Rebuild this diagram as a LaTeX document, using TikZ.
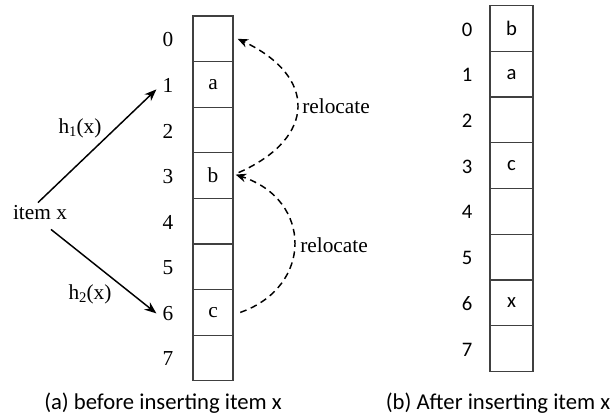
\documentclass[tikz,border=0pt]{standalone}
\usepackage{fontspec}
\setmainfont{Liberation Serif}
\newfontfamily\calfont{Carlito}
\usetikzlibrary{arrows.meta}

\begin{document}
\begin{tikzpicture}[x=0.75pt,y=-0.75pt,
  serif/.style={font=\fontsize{16}{18}\selectfont, inner sep=0pt},
  sans/.style={font=\calfont\fontsize{15.5}{17}\selectfont, inner sep=0pt},
  caption/.style={font=\calfont\fontsize{17}{19}\selectfont, inner sep=0pt},
  cellL/.style={draw=black!75, line width=0.9pt, minimum width=30pt, minimum height=34.2pt, inner sep=0pt, font=\fontsize{16}{18}\selectfont},
  cellR/.style={draw=black!75, line width=0.9pt, minimum width=32.25pt, minimum height=34.3pt, inner sep=0pt, font=\calfont\fontsize{15.5}{17}\selectfont},
  hasharrow/.style={line width=1.1pt, -{Stealth[length=9pt,width=7pt]}},
  moveline/.style={line width=1.1pt, dash pattern=on 5pt off 3.5pt, -{Stealth[length=8pt,width=6.5pt]}}
]
\path[use as bounding box] (0,0) rectangle (615,416);

% ---- left table: before insertion ----
\foreach \i/\t in {0/,1/a,2/,3/b,4/,5/,6/c,7/} {
  \node[cellL] (L\i) at (213,{16+45.6*(\i+0.5)}) {\t};
  \node[serif] (dl\i) at (168,{16+45.6*(\i+0.5)+1}) {\i};
}

\node[serif] (itemx) at (40,213) {item x};
\node[serif] (h1) at (80,128) {h\raisebox{-0.35ex}{\fontsize{11}{11}\selectfont 1}(x)};
\node[serif] (h2) at (90,294) {h\raisebox{-0.35ex}{\fontsize{11}{11}\selectfont 2}(x)};

\draw[hasharrow] ([shift={(-2,-3)}]itemx.north) -- ([shift={(-6,4)}]dl1.west);
\draw[hasharrow] ([shift={(11,9)}]itemx.south) -- ([shift={(-6,0)}]dl6.west);

% relocation chain: c -> slot 3, b -> slot 0
\draw[moveline] ([shift={(5,-3)}]L3.east) .. controls (317,138) and (317,76) .. ([xshift=3]L0.east);
\draw[moveline] ([xshift=5]L6.east) .. controls (313,287) and (313,200) .. ([shift={(2,-1)}]L3.east);

\node[serif, anchor=west] (rel1) at (302,106) {relocate};
\node[serif, anchor=west] (rel2) at (300,245) {relocate};

\node[caption] (capa) at (163,403) {(a) before inserting item x};

% ---- right table: after insertion ----
\foreach \i/\t in {0/b,1/a,2/,3/c,4/,5/,6/x,7/} {
  \node[cellR] (R\i) at (511.5,{5.7+45.7*(\i+0.5)}) {\t};
  \node[sans] (dr\i) at (467,{5.7+45.7*(\i+0.5)+1}) {\i};
}

\node[caption] (capb) at (498,403) {(b) After inserting item x};
\end{tikzpicture}
\end{document}
